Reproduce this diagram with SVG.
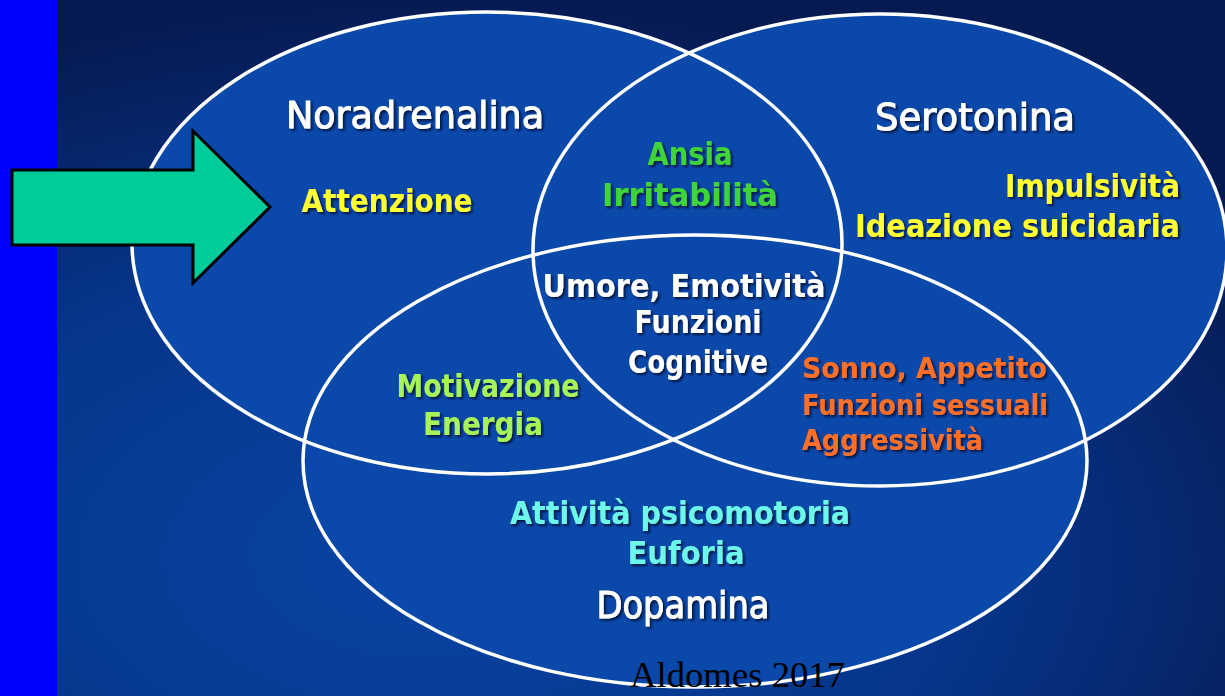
<svg xmlns="http://www.w3.org/2000/svg" width="1225" height="696" viewBox="0 0 1225 696">
  <defs>
    <radialGradient id="bg" cx="0.35" cy="0.8" r="0.8">
      <stop offset="0" stop-color="#0844a4"/>
      <stop offset="0.55" stop-color="#06358a"/>
      <stop offset="1" stop-color="#061a52"/>
    </radialGradient>
    <filter id="sh" x="-10%" y="-30%" width="120%" height="160%">
      <feDropShadow dx="2" dy="2" stdDeviation="0.8" flood-color="#001030" flood-opacity="0.85"/>
    </filter>
    <style>
      .ring { fill: none; stroke: #ffffff; stroke-width: 3.5; }
      .fillE { fill: #0a48aa; }
      text { font-family: "DejaVu Sans", "Liberation Sans", sans-serif; font-weight: bold; filter: url(#sh); }
      .title { font-size: 38px; fill: #ffffff; font-weight: normal; stroke: #ffffff; stroke-width: 1; }
      .c { text-anchor: middle; }
      .yel { font-size: 32px; fill: #ffff33; }
      .grn { font-size: 32px; fill: #3fd43a; }
      .wht { font-size: 32px; fill: #ffffff; }
      .lgr { font-size: 32px; fill: #a6f35a; }
      .org { font-size: 29px; fill: #ff7028; }
      .cyn { font-size: 32px; fill: #6cf7ea; }
      .sig { font-family: "Liberation Serif", serif; font-weight: normal; font-size: 36px; fill: #000000; filter: none; }
    </style>
  </defs>

  <rect x="0" y="0" width="1225" height="696" fill="url(#bg)"/>
  <rect x="0" y="0" width="57" height="696" fill="#0000ff"/>

  <g id="fills">
    <ellipse class="fillE" cx="487" cy="243" rx="355" ry="231"/>
    <ellipse class="fillE" cx="880" cy="250" rx="347" ry="236"/>
    <ellipse class="fillE" cx="695" cy="461" rx="392" ry="226"/>
  </g>

  <g id="noradrenalina">
    <ellipse class="ring" cx="487" cy="243" rx="355" ry="231"/>
    <text class="title c" x="415" y="128" textLength="258" lengthAdjust="spacingAndGlyphs">Noradrenalina</text>
    <text class="yel c" x="387" y="212" textLength="171" lengthAdjust="spacingAndGlyphs">Attenzione</text>
  </g>

  <g id="serotonina">
    <ellipse class="ring" cx="880" cy="250" rx="347" ry="236"/>
    <text class="title c" x="975" y="130" textLength="200" lengthAdjust="spacingAndGlyphs">Serotonina</text>
    <text class="yel" x="1005" y="197" textLength="175" lengthAdjust="spacingAndGlyphs">Impulsività</text>
    <text class="yel" x="855" y="237" textLength="325" lengthAdjust="spacingAndGlyphs">Ideazione suicidaria</text>
  </g>

  <g id="dopamina">
    <ellipse class="ring" cx="695" cy="461" rx="392" ry="226"/>
    <text class="cyn c" x="680" y="524" textLength="340" lengthAdjust="spacingAndGlyphs">Attività psicomotoria</text>
    <text class="cyn c" x="686" y="564" textLength="117" lengthAdjust="spacingAndGlyphs">Euforia</text>
    <text class="title c" x="683" y="618" textLength="173" lengthAdjust="spacingAndGlyphs">Dopamina</text>
  </g>

  <g id="nor-ser">
    <text class="grn c" x="690" y="165" textLength="85" lengthAdjust="spacingAndGlyphs">Ansia</text>
    <text class="grn c" x="690" y="206" textLength="176" lengthAdjust="spacingAndGlyphs">Irritabilità</text>
  </g>

  <g id="center">
    <text class="wht c" x="684" y="297" textLength="283" lengthAdjust="spacingAndGlyphs">Umore, Emotività</text>
    <text class="wht c" x="698" y="333" textLength="127" lengthAdjust="spacingAndGlyphs">Funzioni</text>
    <text class="wht c" x="698" y="373" textLength="140" lengthAdjust="spacingAndGlyphs">Cognitive</text>
  </g>

  <g id="nor-dop">
    <text class="lgr c" x="488" y="397" textLength="183" lengthAdjust="spacingAndGlyphs">Motivazione</text>
    <text class="lgr c" x="483" y="435" textLength="120" lengthAdjust="spacingAndGlyphs">Energia</text>
  </g>

  <g id="ser-dop">
    <text class="org" x="802" y="378" textLength="245" lengthAdjust="spacingAndGlyphs">Sonno, Appetito</text>
    <text class="org" x="802" y="415" textLength="246" lengthAdjust="spacingAndGlyphs">Funzioni sessuali</text>
    <text class="org" x="802" y="450" textLength="181" lengthAdjust="spacingAndGlyphs">Aggressività</text>
  </g>

  <g id="arrow">
    <polygon points="12,170 193,170 193,131 270,207 193,283 193,245 12,245" fill="#00cc99" stroke="#000000" stroke-width="3" stroke-linejoin="miter"/>
  </g>

  <g id="connectors"></g>

  <g id="signature">
    <text class="sig" x="630" y="687" textLength="215" lengthAdjust="spacingAndGlyphs">Aldomes 2017</text>
  </g>
</svg>
